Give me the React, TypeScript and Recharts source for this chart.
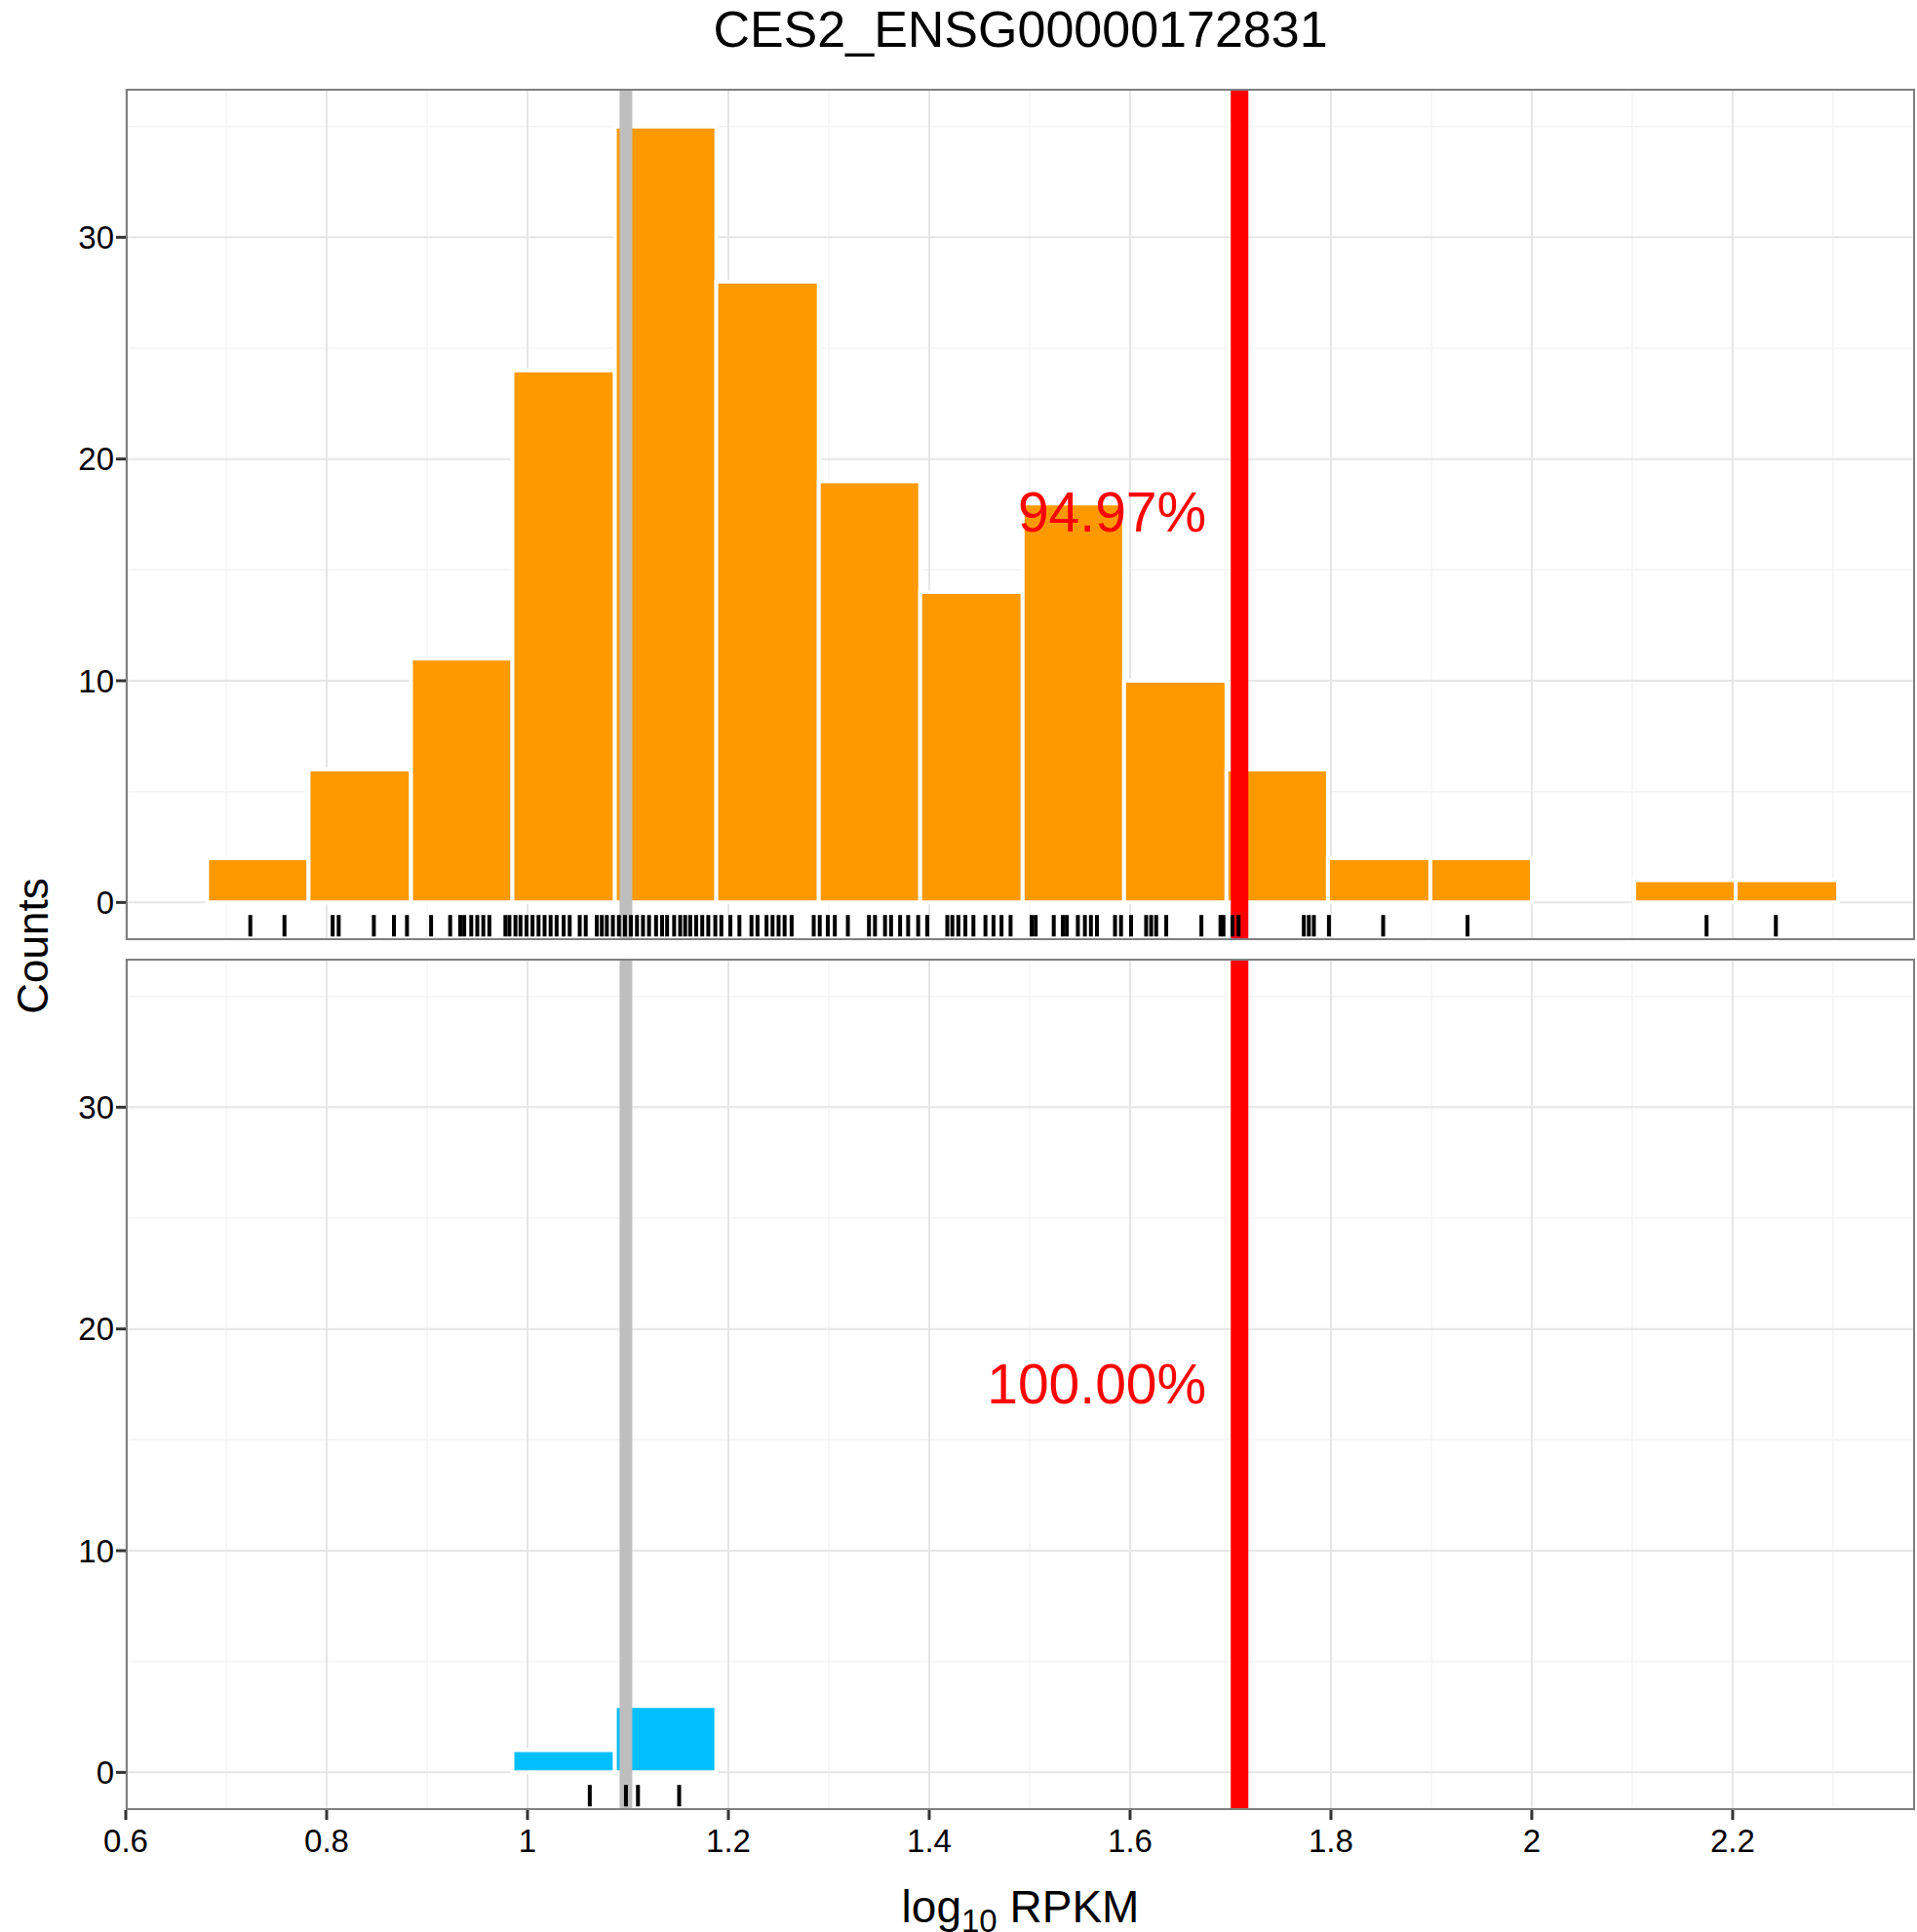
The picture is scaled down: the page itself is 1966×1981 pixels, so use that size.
import { ComposedChart, XAxis, YAxis, Scatter, ReferenceArea, ReferenceLine, CartesianGrid } from "recharts";

const title = "CES2_ENSG00000172831";
const binLo = [0.681, 0.782, 0.884, 0.985, 1.087, 1.188, 1.29, 1.391, 1.493, 1.594, 1.696, 1.797, 1.899, 2.0, 2.102, 2.203];
const binHi = [0.782, 0.884, 0.985, 1.087, 1.188, 1.29, 1.391, 1.493, 1.594, 1.696, 1.797, 1.899, 2.0, 2.102, 2.203, 2.305];
const topCounts = [2, 6, 11, 24, 35, 28, 19, 14, 18, 10, 6, 2, 2, 0, 1, 1];
const bottomCounts = [0, 0, 0, 1, 3, 0, 0, 0, 0, 0, 0, 0, 0, 0, 0, 0];
const topRug = [0.724, 0.758, 0.806, 0.812, 0.847, 0.867, 0.88, 0.904, 0.923, 0.933, 0.937, 0.944, 0.95, 0.956, 0.962, 0.978, 0.982, 0.988, 0.993, 0.999, 1.005, 1.011, 1.017, 1.023, 1.029, 1.036, 1.042, 1.052, 1.058, 1.069, 1.074, 1.079, 1.085, 1.091, 1.097, 1.103, 1.109, 1.115, 1.121, 1.128, 1.134, 1.139, 1.146, 1.152, 1.157, 1.162, 1.168, 1.174, 1.18, 1.187, 1.193, 1.202, 1.211, 1.223, 1.229, 1.238, 1.244, 1.25, 1.256, 1.263, 1.285, 1.291, 1.299, 1.306, 1.319, 1.34, 1.346, 1.356, 1.362, 1.371, 1.379, 1.389, 1.398, 1.418, 1.423, 1.429, 1.436, 1.444, 1.456, 1.464, 1.472, 1.481, 1.502, 1.506, 1.524, 1.533, 1.537, 1.548, 1.555, 1.561, 1.567, 1.585, 1.591, 1.601, 1.616, 1.621, 1.626, 1.636, 1.671, 1.69, 1.693, 1.702, 1.708, 1.773, 1.778, 1.783, 1.798, 1.852, 1.936, 2.174, 2.243];
const bottomRug = [1.062, 1.098, 1.11, 1.151];
const grayX = 1.098;
const redX = 1.709;
const topLabel = { x: 1.676, y: 17.4, text: "94.97%" };
const bottomLabel = { x: 1.676, y: 17.3, text: "100.00%" };
const xMajor = [0.6, 0.8, 1, 1.2, 1.4, 1.6, 1.8, 2, 2.2];
const xMinor = [0.7, 0.9, 1.1, 1.3, 1.5, 1.7, 1.9, 2.1, 2.3];
const yMajor = [0, 10, 20, 30];
const yMinor = [5, 15, 25, 35];

const FONT = "Liberation Sans, Arial, sans-serif";
const W = 1966;
const PLOT_H = 873;

const RugMark = (p: any) => (
  <line x1={p.cx} x2={p.cx} y1={p.cy - 11} y2={p.cy + 11} stroke="#000" strokeWidth={4} />
);

const LabelMark = (text: string) => (p: any) => (
  <text x={p.cx} y={p.cy} textAnchor="end" dominantBaseline="middle" fill="#ff0000" fontSize={57} fontFamily={FONT}>
    {text}
  </text>
);

const Panel = ({ counts, rug, fill, label, showX }: any) => {
  const rugData = rug.map((x: number) => ({ x, y: -1.05 }));
  return (
    <ComposedChart
      width={W}
      height={PLOT_H + (showX ? 80 : 0)}
      margin={{ top: 0, right: 2, left: 49, bottom: 0 }}
    >
      <CartesianGrid verticalValues={xMinor} horizontalValues={yMinor} stroke="#f4f4f4" strokeWidth={1.5} />
      <CartesianGrid verticalValues={xMajor} horizontalValues={yMajor} stroke="#e6e6e6" strokeWidth={2} />
      <XAxis
        type="number"
        dataKey="x"
        domain={[0.6, 2.3816]}
        ticks={xMajor}
        allowDataOverflow
        hide={!showX}
        height={80}
        tickSize={10}
        tickLine={{ stroke: "#333", strokeWidth: 3 }}
        axisLine={false}
        tick={{ fill: "#000", fontSize: 33, fontFamily: FONT, dy: 8 }}
        tickFormatter={(v) => String(Math.round(v * 10) / 10)}
      />
      <YAxis
        type="number"
        dataKey="y"
        domain={[-1.7, 36.7]}
        ticks={yMajor}
        allowDataOverflow
        width={80}
        tickSize={10}
        tickLine={{ stroke: "#333", strokeWidth: 3 }}
        axisLine={false}
        tick={{ fill: "#000", fontSize: 33, fontFamily: FONT }}
      />
      {counts.map((c: number, i: number) =>
        c > 0 ? (
          <ReferenceArea key={"b" + i} x1={binLo[i]} x2={binHi[i]} y1={0} y2={c} fill={fill} fillOpacity={1} stroke="#fff" strokeWidth={4} />
        ) : null
      )}
      <Scatter data={rugData} shape={RugMark} isAnimationActive={false} />
      <ReferenceLine x={grayX} stroke="#bebebe" strokeWidth={13} />
      <ReferenceLine x={redX} stroke="#ff0000" strokeWidth={18} />
      <Scatter data={[label]} shape={LabelMark(label.text)} isAnimationActive={false} />
    </ComposedChart>
  );
};

const border = (top: number) => ({
  position: "absolute" as const,
  left: 129,
  top,
  width: 1835,
  height: PLOT_H,
  border: "2.5px solid #7f7f7f",
  boxSizing: "border-box" as const,
  pointerEvents: "none" as const,
});

export default function App() {
  return (
    <div style={{ position: "absolute", left: 0, top: 0, width: W, height: 1981, background: "#fff", fontFamily: FONT }}>
      <div style={{ position: "absolute", top: 0, left: 129, width: 1835, textAlign: "center", fontSize: 52 }}>{title}</div>
      <div style={{ position: "absolute", left: 0, top: 91 }}>
        <Panel counts={topCounts} rug={topRug} fill="#ff9900" label={topLabel} showX={false} />
      </div>
      <div style={{ position: "absolute", left: 0, top: 983 }}>
        <Panel counts={bottomCounts} rug={bottomRug} fill="#00bfff" label={bottomLabel} showX />
      </div>
      <div style={border(91)} />
      <div style={border(983)} />
      <div style={{ position: "absolute", left: -36, top: 945, width: 140, textAlign: "center", fontSize: 44, transform: "rotate(-90deg)" }}>Counts</div>
      <div style={{ position: "absolute", top: 1928, left: 129, width: 1835, textAlign: "center", fontSize: 46 }}>
        log<sub style={{ fontSize: 33 }}>10</sub> RPKM
      </div>
    </div>
  );
}
